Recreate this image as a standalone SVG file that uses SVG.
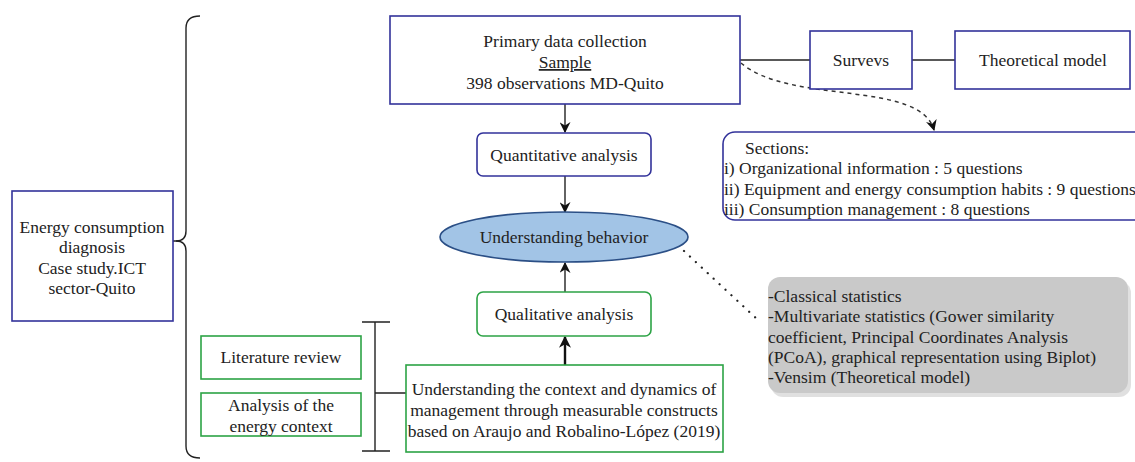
<svg xmlns="http://www.w3.org/2000/svg" width="1135" height="462" viewBox="0 0 1135 462">
<defs>
<marker id="ah" viewBox="0 0 10 10" refX="9" refY="5" markerWidth="11" markerHeight="11" orient="auto" markerUnits="userSpaceOnUse">
<path d="M0,0 L10,5 L0,10 L3,5 z" fill="#111"/>
</marker>
<marker id="ah2" viewBox="0 0 10 10" refX="9" refY="5" markerWidth="12" markerHeight="12" orient="auto" markerUnits="userSpaceOnUse">
<path d="M0,0 L10,5 L0,10 L3,5 z" fill="#111"/>
</marker>
</defs>
<rect width="1135" height="462" fill="#fff"/>

<g id="connectors" fill="none" stroke="#222" stroke-width="1.4">
<path d="M173,241 L176,241 Q186,241 186,231 L186,28 Q186,16 200,16"/>
<path d="M176,241 Q186,241 186,251 L186,446 Q186,458 200,458"/>
<path d="M362,322 L390,322 M375,322 L375,451 M362,451 L390,451 M375,393 L406,393"/>
<line x1="565" y1="104" x2="565" y2="132" marker-end="url(#ah)"/>
<line x1="565" y1="176" x2="565" y2="212" marker-end="url(#ah)"/>
<line x1="565" y1="292" x2="565" y2="263" marker-end="url(#ah)"/>
<line x1="565" y1="365" x2="565" y2="337" stroke="#111" stroke-width="2.4" marker-end="url(#ah2)"/>
<line x1="740" y1="60" x2="810" y2="60"/>
<line x1="912" y1="60" x2="955" y2="60"/>
<path d="M741,63 C790,105 920,80 934,130" stroke="#333" stroke-width="1.5" stroke-dasharray="4,4" marker-end="url(#ah)"/>
<path d="M684,251 L758,320" stroke-width="2.2" stroke-dasharray="0.1,8" stroke-linecap="round"/>
</g>

<g id="energy-diagnosis">
<rect x="12" y="191" width="161" height="130" fill="#fff" stroke="#32329a" stroke-width="1.6"/>
<text x="92" y="233" text-anchor="middle" fill="#222" style="font-family:'Liberation Serif','Times New Roman',serif;font-size:17.5px">Energy consumption</text>
<text x="92" y="253" text-anchor="middle" fill="#222" style="font-family:'Liberation Serif','Times New Roman',serif;font-size:17.5px">diagnosis</text>
<text x="92" y="274" text-anchor="middle" fill="#222" style="font-family:'Liberation Serif','Times New Roman',serif;font-size:17.5px">Case study.ICT</text>
<text x="92" y="294" text-anchor="middle" fill="#222" style="font-family:'Liberation Serif','Times New Roman',serif;font-size:17.5px">sector-Quito</text>
</g>

<g id="primary-data">
<rect x="390" y="16" width="350" height="88" fill="#fff" stroke="#32329a" stroke-width="1.6"/>
<text x="565" y="47" text-anchor="middle" fill="#222" style="font-family:'Liberation Serif','Times New Roman',serif;font-size:17.5px">Primary data collection</text>
<text x="565" y="68" text-anchor="middle" fill="#222" text-decoration="underline" style="font-family:'Liberation Serif','Times New Roman',serif;font-size:17.5px">Sample </text>
<text x="565" y="89" text-anchor="middle" fill="#222" style="font-family:'Liberation Serif','Times New Roman',serif;font-size:17.5px">398 observations MD-Quito</text>
</g>

<g id="surveys">
<rect x="810" y="31" width="102" height="58" fill="#fff" stroke="#32329a" stroke-width="1.6"/>
<text x="861" y="66" text-anchor="middle" fill="#222" style="font-family:'Liberation Serif','Times New Roman',serif;font-size:17.5px">Survevs</text>
</g>

<g id="theoretical-model">
<rect x="955" y="31" width="175" height="58" fill="#fff" stroke="#32329a" stroke-width="1.6"/>
<text x="1043" y="66" text-anchor="middle" fill="#222" style="font-family:'Liberation Serif','Times New Roman',serif;font-size:17.5px">Theoretical model</text>
</g>

<g id="sections">
<rect x="723" y="132" width="430" height="88" rx="12" fill="#fff" stroke="#32329a" stroke-width="1.6"/>
<text x="745" y="154" fill="#222" style="font-family:'Liberation Serif','Times New Roman',serif;font-size:17.5px">Sections:</text>
<text x="724" y="174" fill="#222" style="font-family:'Liberation Serif','Times New Roman',serif;font-size:17.5px">i) Organizational information : 5 questions</text>
<text x="724" y="195" fill="#222" style="font-family:'Liberation Serif','Times New Roman',serif;font-size:17.5px">ii) Equipment and energy consumption habits : 9 questions</text>
<text x="724" y="215" fill="#222" style="font-family:'Liberation Serif','Times New Roman',serif;font-size:17.5px">iii) Consumption management : 8 questions</text>
</g>

<g id="quantitative">
<rect x="477" y="133" width="174" height="43" rx="6" fill="#fff" stroke="#32329a" stroke-width="1.6"/>
<text x="564" y="161" text-anchor="middle" fill="#222" style="font-family:'Liberation Serif','Times New Roman',serif;font-size:17.5px">Quantitative analysis</text>
</g>

<g id="understanding-behavior">
<ellipse cx="564" cy="237" rx="124" ry="25" fill="#a2c4e6" stroke="#2b4f86" stroke-width="1.6"/>
<text x="564" y="243" text-anchor="middle" fill="#222" style="font-family:'Liberation Serif','Times New Roman',serif;font-size:17.5px">Understanding behavior</text>
</g>

<g id="qualitative">
<rect x="477" y="292" width="174" height="44" rx="6" fill="#fff" stroke="#2ca345" stroke-width="1.6"/>
<text x="564" y="320" text-anchor="middle" fill="#222" style="font-family:'Liberation Serif','Times New Roman',serif;font-size:17.5px">Qualitative analysis</text>
</g>

<g id="understanding-context">
<rect x="406" y="365" width="317" height="87" fill="#fff" stroke="#2ca345" stroke-width="1.6"/>
<text x="564" y="395" text-anchor="middle" fill="#222" style="font-family:'Liberation Serif','Times New Roman',serif;font-size:17.5px">Understanding the context and dynamics of</text>
<text x="564" y="416" text-anchor="middle" fill="#222" style="font-family:'Liberation Serif','Times New Roman',serif;font-size:17.5px">management through measurable constructs</text>
<text x="564" y="437" text-anchor="middle" fill="#222" style="font-family:'Liberation Serif','Times New Roman',serif;font-size:17.5px">based on Araujo and Robalino-López (2019)</text>
</g>

<g id="literature-review">
<rect x="201" y="336" width="160" height="43" fill="#fff" stroke="#2ca345" stroke-width="1.6"/>
<text x="281" y="363" text-anchor="middle" fill="#222" style="font-family:'Liberation Serif','Times New Roman',serif;font-size:17.5px">Literature review</text>
</g>

<g id="energy-context">
<rect x="201" y="393" width="160" height="43" fill="#fff" stroke="#2ca345" stroke-width="1.6"/>
<text x="281" y="411" text-anchor="middle" fill="#222" style="font-family:'Liberation Serif','Times New Roman',serif;font-size:17.5px">Analysis of the</text>
<text x="281" y="432" text-anchor="middle" fill="#222" style="font-family:'Liberation Serif','Times New Roman',serif;font-size:17.5px">energy context</text>
</g>

<g id="methods">
<rect x="771" y="281" width="360" height="116" rx="12" fill="#000" opacity="0.12"/>
<rect x="768" y="277" width="360" height="116" rx="12" fill="#c9c9c9"/>
<text x="768" y="302" fill="#222" style="font-family:'Liberation Serif','Times New Roman',serif;font-size:17.5px">-Classical statistics</text>
<text x="768" y="322" fill="#222" style="font-family:'Liberation Serif','Times New Roman',serif;font-size:17.5px">-Multivariate statistics (Gower similarity</text>
<text x="768" y="343" fill="#222" style="font-family:'Liberation Serif','Times New Roman',serif;font-size:17.5px">coefficient, Principal Coordinates Analysis</text>
<text x="768" y="363" fill="#222" style="font-family:'Liberation Serif','Times New Roman',serif;font-size:17.5px">(PCoA), graphical representation using Biplot)</text>
<text x="768" y="383" fill="#222" style="font-family:'Liberation Serif','Times New Roman',serif;font-size:17.5px">-Vensim (Theoretical model)</text>
</g>
</svg>
